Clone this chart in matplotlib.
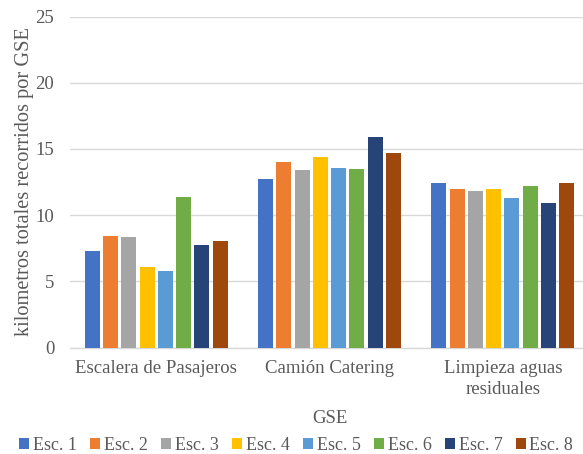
import numpy as np
import matplotlib
matplotlib.use("Agg")
import matplotlib.pyplot as plt

plt.rcParams["font.family"] = ["Liberation Serif", "DejaVu Serif"]

categories = ["Escalera de Pasajeros", "Camión Catering", "Limpieza aguas\nresiduales"]
series = ["Esc. 1", "Esc. 2", "Esc. 3", "Esc. 4", "Esc. 5", "Esc. 6", "Esc. 7", "Esc. 8"]
values = [
    [7.3, 12.74, 12.45],
    [8.43, 13.98, 11.99],
    [8.33, 13.37, 11.83],
    [6.06, 14.38, 11.95],
    [5.78, 13.58, 11.3],
    [11.36, 13.5, 12.23],
    [7.75, 15.9, 10.92],
    [8.08, 14.68, 12.41],
]
colors = ["#4472c4", "#ed7d31", "#a5a5a5", "#ffc000", "#5b9bd5", "#70ad47", "#264478", "#9e480e"]

TXT = "#595959"
GRID = "#d9d9d9"

fig = plt.figure(figsize=(5.83, 4.54), dpi=100)
# axes runs slightly past the right edge, as in the (cropped) original
ax = fig.add_axes([69.5 / 583, 106.5 / 454, 520 / 583, 331 / 454])

x = np.arange(len(categories))
slot = 0.1057
width = 0.0866
for i, (name, vals) in enumerate(zip(series, values)):
    offs = (i - (len(series) - 1) / 2) * slot
    ax.bar(x + offs, vals, width, color=colors[i], label=name, zorder=3)

ax.set_xlim(-0.5, 2.5)
ax.set_ylim(0, 25)
ax.set_yticks(range(0, 26, 5))
ax.set_xticks(x)
ax.set_xticklabels(categories, fontsize=13.5, color=TXT, linespacing=1.3)
ax.tick_params(axis="y", labelsize=13.5, colors=TXT, length=0, pad=11)
ax.tick_params(axis="x", length=0, pad=9)
ax.grid(axis="y", color=GRID, linewidth=1, zorder=0)
for s in ["top", "right", "left"]:
    ax.spines[s].set_visible(False)
ax.spines["bottom"].set_color(GRID)
ax.spines["bottom"].set_linewidth(1)

ax.set_ylabel("kilometros totales recorridos por GSE", fontsize=14.7, color=TXT, labelpad=1)
ax.set_xlabel("GSE", fontsize=13.5, color=TXT, labelpad=9)

fig.legend(loc="lower center", bbox_to_anchor=(0.508, -0.035), ncol=8, frameon=False,
           fontsize=13, labelcolor=TXT, handlelength=0.55, handleheight=0.55,
           handletextpad=0.2, columnspacing=0.75)

fig.savefig("out.png", dpi=100)
